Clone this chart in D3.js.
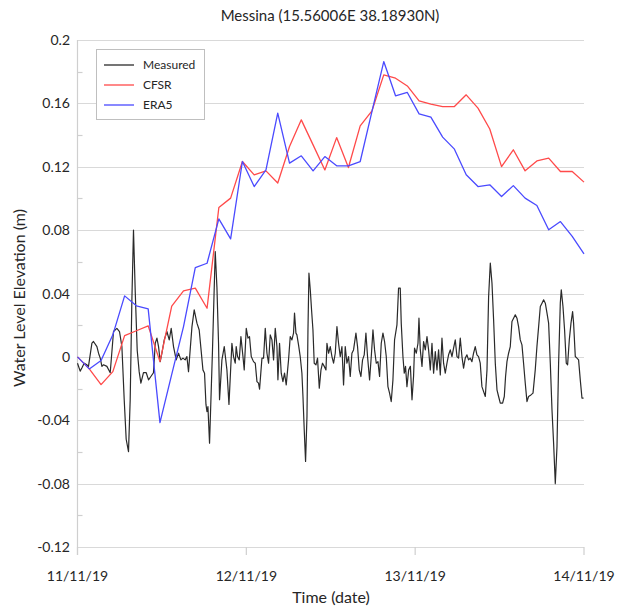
<!DOCTYPE html>
<html><head><meta charset="utf-8">
<script src="https://cdn.jsdelivr.net/npm/d3@7"></script>
<style>html,body{margin:0;padding:0;background:#fff;} svg{display:block;font-family:Lato,"Open Sans",sans-serif;}</style>
</head><body>
<script>
const titleText = "Messina (15.56006E 38.18930N)";
const xTickLabels = ["11/11/19","12/11/19","13/11/19","14/11/19"];
const xTickHours = [0, 24, 48, 72];
const yTickValues = [-0.12,-0.08,-0.04,0,0.04,0.08,0.12,0.16,0.2];
const yTickLabels = ["-0.12","-0.08","-0.04","0","0.04","0.08","0.12","0.16","0.2"];
const yMinorTicks = [-0.1,-0.06,-0.02,0.02,0.06,0.1,0.14,0.18];
const seriesNames = ["Measured","CFSR","ERA5"];
const seriesColors = ["#2a2a2a","#ff4a4a","#4a4aff"];

// model series: equally spaced samples over 11/11 00:00 - 14/11 00:00
const cfsr = [0,-0.0076,-0.0175,-0.0093,0.0134,0.0165,0.0196,-0.003,0.032,0.0417,0.0434,0.0307,0.0943,0.1002,0.1233,0.1149,0.1174,0.1097,0.1328,0.1496,0.1338,0.118,0.1384,0.1195,0.1458,0.1553,0.178,0.1759,0.171,0.1616,0.1595,0.158,0.158,0.1654,0.157,0.1438,0.1201,0.1307,0.1174,0.1237,0.1254,0.117,0.117,0.1103];
const era5 = [0,-0.0076,-0.0023,0.0139,0.0385,0.0322,0.0303,-0.0415,-0.011,0.0191,0.0564,0.0591,0.0871,0.0745,0.1233,0.1075,0.118,0.1538,0.1223,0.1269,0.1174,0.1264,0.1206,0.1206,0.1233,0.155,0.1864,0.1648,0.1669,0.1534,0.1513,0.1387,0.1311,0.1149,0.1075,0.1086,0.1012,0.1081,0.1002,0.0955,0.0802,0.0854,0.076,0.065];

// measured: hours since 11/11/19 00:00, water level (m)
const measuredHours = [0,0.38,0.62,0.95,1.34,1.56,2.05,2.27,2.76,2.99,3.23,3.47,3.7,4.18,4.41,4.65,5.12,5.6,5.97,6.31,6.64,6.92,7.25,7.49,7.73,7.96,8.2,8.49,8.77,9.01,9.38,9.77,10.1,10.43,10.8,11.05,11.29,11.52,11.76,12.0,12.33,12.71,13.04,13.32,13.65,14.03,14.36,14.7,14.99,15.31,15.55,15.78,16.27,16.59,16.98,17.3,17.59,17.83,18.06,18.26,18.4,18.54,18.77,19.19,19.58,19.82,20.05,20.19,20.53,20.86,21.24,21.53,21.95,22.18,22.42,22.56,22.75,22.99,23.23,23.52,23.7,23.99,24.23,24.45,24.7,25.02,25.27,25.51,25.73,25.88,26.22,26.45,26.69,26.93,27.16,27.4,27.64,27.87,28.11,28.35,28.49,28.72,28.96,29.2,29.43,29.67,30.0,30.24,30.48,30.71,30.85,31.05,31.19,31.42,31.66,31.9,32.05,32.23,32.42,32.62,32.76,32.9,33.09,33.27,33.47,33.65,33.9,34.12,34.37,34.61,34.83,35.08,35.32,35.46,35.69,35.93,36.17,36.4,36.64,36.88,37.11,37.35,37.59,37.82,38.06,38.3,38.53,38.77,39.01,39.24,39.58,39.81,40.05,40.29,40.52,40.76,41.0,41.23,41.52,41.76,42.0,42.23,42.47,42.71,42.94,43.18,43.42,43.65,43.89,44.13,44.36,44.6,44.84,45.07,45.41,45.64,45.88,46.02,46.26,46.45,46.63,46.83,47.08,47.32,47.55,47.77,47.91,48.16,48.4,48.54,48.73,48.97,49.2,49.44,49.68,49.91,50.15,50.39,50.62,50.86,51.1,51.33,51.57,51.81,52.04,52.28,52.52,52.75,52.99,53.23,53.46,53.7,53.94,54.17,54.41,54.65,54.88,55.12,55.36,55.59,55.83,56.07,56.3,56.54,56.78,57.01,57.25,57.49,57.73,57.97,58.21,58.44,58.68,58.92,59.15,59.39,59.63,59.86,60.1,60.43,60.67,60.85,61.05,61.28,61.52,61.76,61.99,62.23,62.47,62.7,62.94,63.18,63.41,63.65,63.89,64.12,64.46,64.75,65.07,65.31,65.55,65.79,66.03,66.26,66.5,66.74,66.97,67.21,67.45,67.68,67.92,68.16,68.39,68.63,68.77,69.01,69.24,69.48,69.67,69.91,70.15,70.38,70.52,70.76,71.0,71.23,71.47,71.71,71.94];
const measuredLevel = [-0.004,-0.009,-0.007,-0.004,-0.005,-0.006,0.0087,0.0097,0.0065,0.0023,-0.0008,-0.006,-0.005,-0.006,-0.008,-0.010,0.016,0.018,0.016,0.0065,-0.027,-0.052,-0.0598,-0.027,0.036,0.080,0.042,0.004,-0.0095,-0.0166,-0.010,-0.010,-0.0145,-0.0124,-0.010,0.0086,0.0118,0.0065,-0.003,0.0023,0.0107,0.016,0.0107,0.018,0.0065,-0.0019,0.0023,-0.0019,-0.0008,-0.0019,0.0002,-0.0093,0.0191,0.0297,0.0213,0.017,0.0033,-0.0082,-0.0103,-0.030,-0.0345,-0.0314,-0.0545,0.0044,0.0665,0.044,0.0086,-0.027,-0.0019,0.0065,-0.0082,-0.030,0.0086,0.0002,-0.004,0.0065,0.0002,-0.0019,0.0128,0.0002,-0.0082,0.018,0.0118,0.0128,0.0002,-0.003,-0.004,-0.0156,-0.0166,-0.0204,-0.0008,-0.0008,0.018,0.0023,-0.004,0.0139,0.0107,-0.0019,0.018,0.0065,-0.0145,0.0086,-0.0103,-0.0156,-0.0103,-0.0177,-0.0019,0.0128,0.0107,0.015,0.0276,0.015,0.0139,0.0076,0.0002,-0.0103,-0.025,-0.046,-0.066,-0.0377,0.017,0.0528,0.0423,0.0297,0.017,-0.004,-0.005,-0.0008,-0.0198,-0.0082,-0.004,-0.006,-0.0082,0.0086,0.0023,0.0065,0.0002,-0.004,0.0023,0.0191,0.0086,0.0002,0.0065,-0.0177,0.0065,-0.004,0.0002,-0.0124,0.0023,0.0044,0.015,0.0065,-0.0082,-0.0124,-0.0019,0.0013,0.015,0.0002,-0.0145,0.0002,0.017,0.0044,-0.004,-0.003,-0.0124,0.0086,0.015,0.0097,0.0002,-0.0188,-0.0229,-0.0282,-0.0145,0.0107,0.0202,0.0434,0.0434,0.0213,0.0002,-0.0103,-0.006,-0.0188,-0.0082,-0.006,-0.0271,-0.0124,0.0055,0.0023,0.0086,0.0244,0.0044,-0.006,0.0097,0.0044,0.0128,0.0044,-0.0082,0.0086,-0.0103,0.0033,-0.0082,0.0044,-0.0114,0.0118,-0.004,-0.0103,-0.004,0.0013,0.0044,0.0002,0.0055,0.0107,0.0002,-0.0008,0.0118,0.0002,-0.0071,-0.0008,0.0013,-0.0019,-0.0008,-0.003,0.0023,0.0065,0.0013,0.0002,-0.004,-0.0188,-0.0219,-0.025,-0.0082,0.038,0.0592,0.0465,0.0234,-0.004,-0.0208,-0.025,-0.0292,-0.0292,-0.025,-0.0124,-0.003,0.0023,0.0065,0.0223,0.0244,0.0265,0.0244,0.0191,0.0107,0.0076,-0.004,-0.0166,-0.0282,-0.025,-0.024,-0.0229,-0.0082,0.0065,0.0191,0.0318,0.0339,0.036,0.0339,0.0276,0.0213,-0.004,-0.0335,-0.0545,-0.080,-0.0566,-0.004,0.0339,0.0423,0.0318,0.017,-0.004,-0.005,0.0107,0.0213,0.0286,0.0213,0.0002,-0.0008,-0.0019,-0.0145,-0.026,-0.026];

const W = 617, H = 610;
const plot = {left: 77.5, right: 584, top: 40, bottom: 547};

const svg = d3.select("body").append("svg").attr("width", W).attr("height", H);
svg.append("rect").attr("width", W).attr("height", H).attr("fill", "#fff");

const x = d3.scaleLinear().domain([0, 72]).range([plot.left, plot.right]);
const y = d3.scaleLinear().domain([-0.12, 0.2]).range([plot.bottom, plot.top]);
const modelTime = d3.scaleLinear().domain([0, cfsr.length - 1]).range([0, 72]);

// gridlines
svg.append("g").selectAll("line").data(yTickValues).join("line")
  .attr("x1", plot.left).attr("x2", plot.right)
  .attr("y1", d => Math.round(y(d)) + 0.5).attr("y2", d => Math.round(y(d)) + 0.5)
  .attr("stroke", "#d9d9d9").attr("stroke-width", 1.2);

// left axis line + minor ticks
svg.append("line").attr("x1", plot.left).attr("x2", plot.left)
  .attr("y1", plot.top).attr("y2", plot.bottom + 8)
  .attr("stroke", "#cfcfcf").attr("stroke-width", 1.2);
svg.append("g").selectAll("line").data(yMinorTicks).join("line")
  .attr("x1", plot.left).attr("x2", plot.left + 5)
  .attr("y1", d => Math.round(y(d)) + 0.5).attr("y2", d => Math.round(y(d)) + 0.5)
  .attr("stroke", "#cfcfcf").attr("stroke-width", 1.2);

// x axis ticks
svg.append("g").selectAll("line").data(xTickHours).join("line")
  .attr("x1", d => x(d)).attr("x2", d => x(d))
  .attr("y1", plot.bottom).attr("y2", plot.bottom + 8)
  .attr("stroke", "#cfcfcf").attr("stroke-width", 1.2);

// y labels
svg.append("g").selectAll("text").data(yTickValues).join("text")
  .attr("x", 70).attr("y", d => y(d)).attr("dy", "0.36em")
  .attr("text-anchor", "end").attr("font-size", 14).attr("fill", "#262626")
  .text((d, i) => yTickLabels[i]);

// x labels
svg.append("g").selectAll("text").data(xTickHours).join("text")
  .attr("x", d => x(d)).attr("y", 581)
  .attr("text-anchor", "middle").attr("font-size", 14).attr("fill", "#262626")
  .text((d, i) => xTickLabels[i]);

svg.append("text").attr("x", 331).attr("y", 603).attr("text-anchor", "middle")
  .attr("font-size", 16).attr("fill", "#262626").text("Time (date)");
svg.append("text").attr("transform", "translate(25,298) rotate(-90)").attr("text-anchor", "middle")
  .attr("font-size", 16).attr("fill", "#262626").text("Water Level Elevation (m)");
svg.append("text").attr("x", 330).attr("y", 21).attr("text-anchor", "middle")
  .attr("font-size", 15).attr("fill", "#262626").text(titleText);

// lines
const line = d3.line().x(d => x(d[0])).y(d => y(d[1]));
const measuredData = measuredHours.map((h, i) => [h, measuredLevel[i]]);
const cfsrData = cfsr.map((v, i) => [modelTime(i), v]);
const era5Data = era5.map((v, i) => [modelTime(i), v]);

svg.append("path").datum(measuredData).attr("d", line).attr("fill", "none")
  .attr("stroke", seriesColors[0]).attr("stroke-width", 1.2).attr("stroke-linejoin", "round");
svg.append("path").datum(cfsrData).attr("d", line).attr("fill", "none")
  .attr("stroke", seriesColors[1]).attr("stroke-width", 1.3).attr("stroke-linejoin", "round");
svg.append("path").datum(era5Data).attr("d", line).attr("fill", "none")
  .attr("stroke", seriesColors[2]).attr("stroke-width", 1.3).attr("stroke-linejoin", "round");

// legend
const lg = svg.append("g");
lg.append("rect").attr("x", 96.5).attr("y", 49.5).attr("width", 108).attr("height", 70)
  .attr("fill", "#fff").attr("stroke", "#bfbfbf").attr("stroke-width", 1);
seriesNames.forEach((name, i) => {
  const yy = 65 + i * 20;
  lg.append("line").attr("x1", 104).attr("x2", 134).attr("y1", yy).attr("y2", yy)
    .attr("stroke", seriesColors[i]).attr("stroke-width", 1.3);
  lg.append("text").attr("x", 143).attr("y", yy).attr("dy", "0.36em")
    .attr("font-size", 12).attr("fill", "#262626").text(name);
});
</script>
</body></html>
